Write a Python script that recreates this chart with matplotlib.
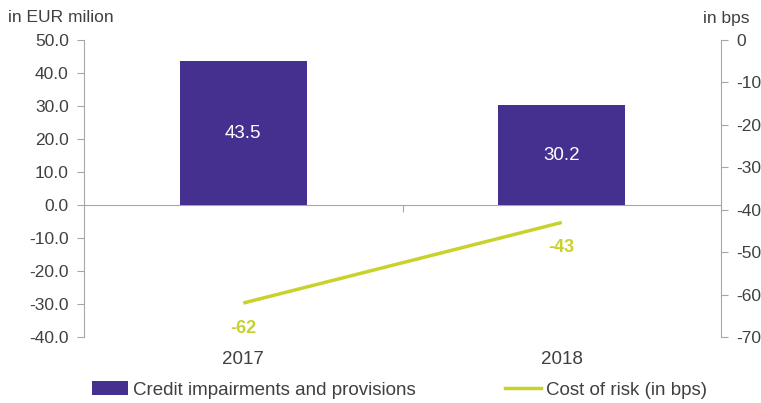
import matplotlib.pyplot as plt
from matplotlib.patches import Patch
from matplotlib.lines import Line2D

plt.rcParams['font.family'] = ['Liberation Sans', 'DejaVu Sans']
plt.rcParams['axes.unicode_minus'] = False

years = ['2017', '2018']
impairments = [43.5, 30.2]      # EUR million
cost_of_risk = [-62, -43]       # bps

bar_color = '#46308F'
line_color = '#C9D22B'
text_color = '#404040'
axis_color = '#A6A6A6'

fig = plt.figure(figsize=(7.61, 4.03), dpi=100)
ax = fig.add_axes([84 / 761, 66 / 403, 637 / 761, 297 / 403])
ax2 = ax.twinx()

x = list(range(len(years)))
bars = ax.bar(x, impairments, width=0.4, color=bar_color, zorder=3)
ax.bar_label(bars, labels=[f'{v:.1f}' for v in impairments], label_type='center',
             color='white', fontsize=13.5)

ax.set_xlim(-0.5, 1.5)
ax.set_ylim(-40, 50)
ax.set_yticks(range(-40, 51, 10))
ax.set_yticklabels([f'{v:.1f}' for v in range(-40, 51, 10)])

ax2.plot(x, cost_of_risk, color=line_color, lw=2.5, solid_capstyle='butt', zorder=4)
for xi, v in zip(x, cost_of_risk):
    ax2.annotate(f'{v}', (xi, v), xytext=(0, -18), textcoords='offset points',
                 ha='center', va='center', color=line_color, fontsize=13,
                 fontweight='bold')
ax2.set_ylim(-70, 0)
ax2.set_yticks(range(-70, 1, 10))

# category labels along the bottom, no axis line there
ax.set_xticks(x)
ax.set_xticklabels(years)
ax.tick_params(axis='x', length=0, pad=10, labelsize=13.5, colors=text_color)
ax.spines['bottom'].set_visible(False)
ax.spines['top'].set_visible(False)
ax2.spines['top'].set_visible(False)
ax2.spines['bottom'].set_visible(False)

# zero line with a tick between the categories
ylo, yhi = ax.get_ylim()
zero_axis = ax.secondary_xaxis((0 - ylo) / (yhi - ylo))
zero_axis.spines['bottom'].set_color(axis_color)
zero_axis.set_xticks([0.5])
zero_axis.set_xticklabels([])
zero_axis.tick_params(direction='out', length=5, color=axis_color)

for a in (ax, ax2):
    for side in ('left', 'right'):
        a.spines[side].set_color(axis_color)
ax.spines['right'].set_visible(False)
ax2.spines['left'].set_visible(False)
ax.tick_params(axis='y', length=5, color=axis_color, labelsize=12.5,
               labelcolor=text_color, pad=6)
ax2.tick_params(axis='y', length=5, color=axis_color, labelsize=12.5,
                labelcolor=text_color, pad=6)

fig.text(8 / 761, 1 - 18 / 403, 'in EUR milion', fontsize=12.5, color=text_color,
         va='center')
fig.text(703 / 761, 1 - 18 / 403, 'in bps', fontsize=12.5, color=text_color,
         va='center')

handles = [Patch(facecolor=bar_color), Line2D([], [], color=line_color, lw=2.5)]
fig.legend(handles, ['Credit impairments and provisions', 'Cost of risk (in bps)'],
           loc='center', bbox_to_anchor=(0.525, 1 - 390 / 403), ncol=2, frameon=False,
           fontsize=13.5, labelcolor=text_color, handlelength=1.9, handletextpad=0.25,
           columnspacing=4.8)

fig.savefig('out.png', dpi=100)
